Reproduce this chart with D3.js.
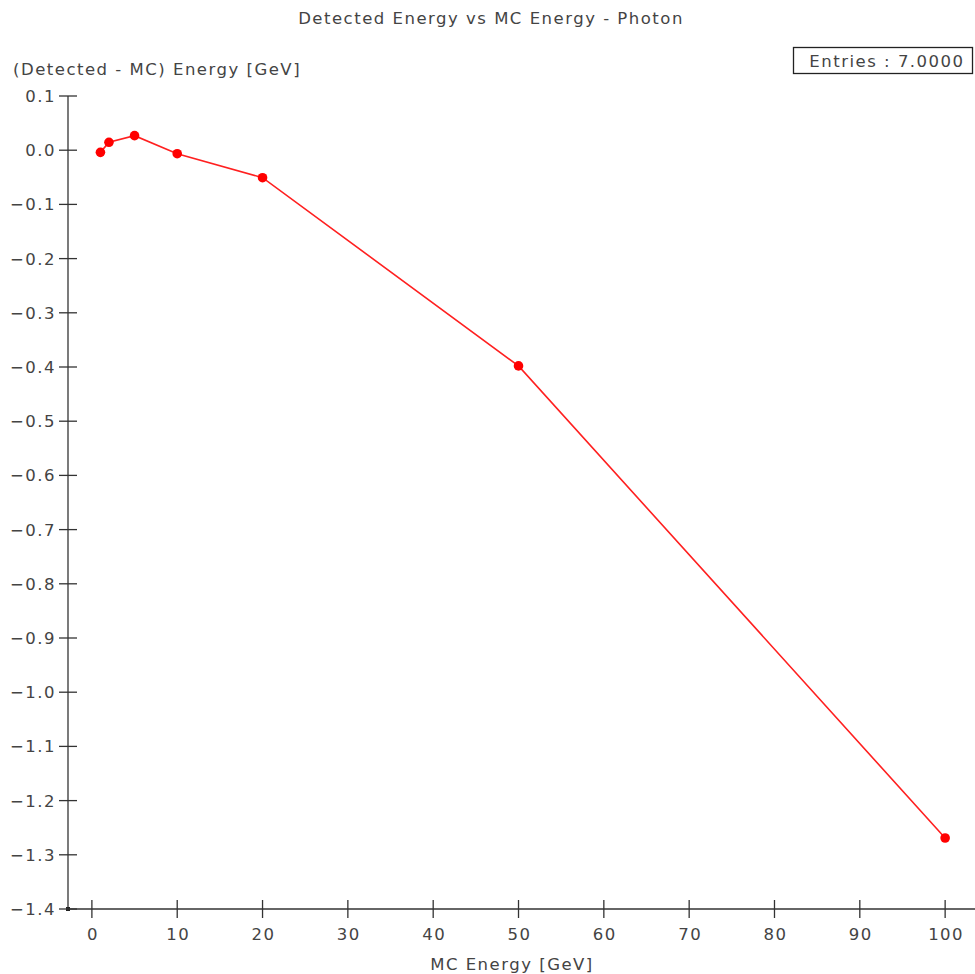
<!DOCTYPE html>
<html><head><meta charset="utf-8">
<script src="https://cdn.jsdelivr.net/npm/d3@7"></script>
<style>body{margin:0;background:#fff}svg{display:block}</style>
</head><body>
<script>
const mcEnergy = [1, 2, 5, 10, 20, 50, 100];
const deltaEnergy = [-0.004, 0.0146, 0.0268, -0.0065, -0.0507, -0.398, -1.269];
const xTicks = [0, 10, 20, 30, 40, 50, 60, 70, 80, 90, 100];
const yTicks = [0.1, 0.0, -0.1, -0.2, -0.3, -0.4, -0.5, -0.6, -0.7, -0.8, -0.9, -1.0, -1.1, -1.2, -1.3, -1.4];
const title = "Detected Energy vs MC Energy - Photon";
const xLabel = "MC Energy [GeV]";
const yLabel = "(Detected - MC) Energy [GeV]";
const legendText = "Entries : 7.0000";

const W = 975, H = 974;
const svg = d3.select("body").append("svg").attr("width", W).attr("height", H);
const font = "'DejaVu Sans', sans-serif";
const FS = 16.5, LS = 1.5;
const x = d3.scaleLinear().domain([-2.8, 103.5]).range([68, 975]);
const y = d3.scaleLinear().domain([-1.4, 0.1]).range([909, 96]);
const axisColor = "#333";
const textColor = "#444";

function txt(g, xx, yy, anchor, s) {
  return g.append("text").attr("x", xx).attr("y", yy).attr("text-anchor", anchor)
    .attr("font-family", font).attr("font-size", FS).attr("letter-spacing", LS)
    .attr("fill", textColor).text(s);
}

txt(svg, 491, 24, "middle", title);
txt(svg, 13, 75, "start", yLabel);
txt(svg, 512, 970, "middle", xLabel);

// axes lines
svg.append("line").attr("x1", 68).attr("x2", 68).attr("y1", y(0.1)).attr("y2", 909)
  .attr("stroke", axisColor).attr("stroke-width", 1.3);
svg.append("line").attr("x1", 68).attr("x2", 975).attr("y1", 909).attr("y2", 909)
  .attr("stroke", axisColor).attr("stroke-width", 1.3);
svg.append("rect").attr("x", 66).attr("y", 907).attr("width", 4).attr("height", 4).attr("fill", "#222");

// y ticks
const yt = svg.append("g");
yTicks.forEach(v => {
  yt.append("line").attr("x1", 59).attr("x2", 77).attr("y1", y(v)).attr("y2", y(v))
    .attr("stroke", axisColor).attr("stroke-width", 1.3);
  txt(yt, 56, y(v) + 6, "end", d3.format(".1f")(v).replace("-", "\u2212"));
});

// x ticks
const xt = svg.append("g");
xTicks.forEach(v => {
  xt.append("line").attr("x1", x(v)).attr("x2", x(v)).attr("y1", 900).attr("y2", 918)
    .attr("stroke", axisColor).attr("stroke-width", 1.3);
  txt(xt, x(v) + 1, 940, "middle", v);
});

// data
const pts = mcEnergy.map((m, i) => [m, deltaEnergy[i]]);
svg.append("path").datum(pts)
  .attr("d", d3.line().x(d => x(d[0])).y(d => y(d[1])))
  .attr("fill", "none").attr("stroke", "#ff2020").attr("stroke-width", 1.6);
svg.selectAll("circle.pt").data(pts).join("circle")
  .attr("cx", d => x(d[0])).attr("cy", d => y(d[1])).attr("r", 4.8).attr("fill", "#ff0000");

// legend
svg.append("rect").attr("x", 793.5).attr("y", 47.5).attr("width", 179).attr("height", 26)
  .attr("fill", "#fff").attr("stroke", "#222").attr("stroke-width", 1.3);
txt(svg, 887, 67, "middle", legendText);
</script>
</body></html>
